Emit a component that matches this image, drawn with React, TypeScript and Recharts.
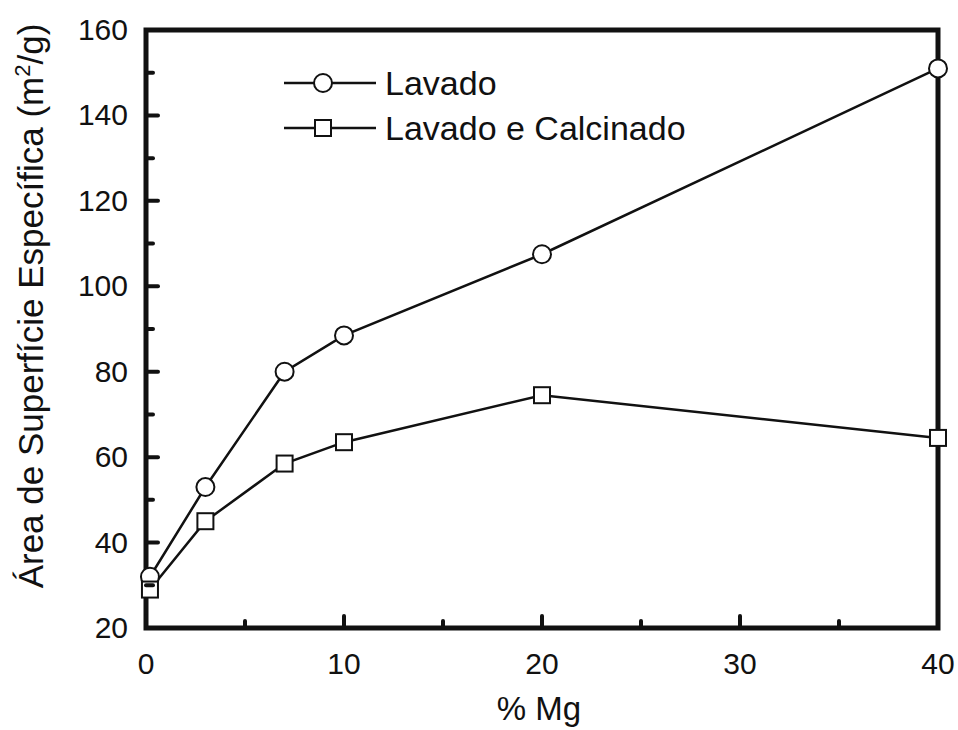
import React from 'react';
import { LineChart, Line, XAxis, YAxis, ReferenceArea, Legend, Label } from 'recharts';

// Specific surface area vs. Mg content
const mgPercent = [0.2, 3, 7, 10, 20, 40];
const lavado = [32, 53, 80, 88.5, 107.5, 151];
const calcinado = [29, 45, 58.5, 63.5, 74.5, 64.5];

const xTicks = [0, 5, 10, 15, 20, 25, 30, 35, 40];
const yTicks = [20, 30, 40, 50, 60, 70, 80, 90, 100, 110, 120, 130, 140, 150, 160];

const seriesNames = ['Lavado', 'Lavado e Calcinado'];

const data = mgPercent.map((mg, i) => ({ mg, lavado: lavado[i], calcinado: calcinado[i] }));

const FONT = '"Liberation Sans", Arial, Helvetica, sans-serif';
const INK = '#111';

const XTick = ({ x, y, payload }: any) => {
  const major = payload.value % 10 === 0;
  return (
    <g>
      <line x1={x} y1={y} x2={x} y2={y - (major ? 12 : 7)} stroke={INK} strokeWidth={4} strokeLinecap="round" />
      {major && (
        <text x={x} y={y + 46} textAnchor="middle" fontSize={30} fontFamily={FONT} fill={INK}>
          {payload.value}
        </text>
      )}
    </g>
  );
};

const YTick = ({ x, y, payload }: any) => {
  const major = payload.value % 20 === 0;
  return (
    <g>
      <line x1={x} y1={y} x2={x + (major ? 12 : 7)} y2={y} stroke={INK} strokeWidth={4} strokeLinecap="round" />
      {major && (
        <text x={x - 18} y={y + 10} textAnchor="end" fontSize={30} fontFamily={FONT} fill={INK}>
          {payload.value}
        </text>
      )}
    </g>
  );
};

const CircleDot = ({ cx, cy }: any) => (
  <circle cx={cx} cy={cy} r={9} fill="#fff" stroke={INK} strokeWidth={2} />
);

const SquareDot = ({ cx, cy }: any) => (
  <rect x={cx - 8} y={cy - 8} width={16} height={16} fill="#fff" stroke={INK} strokeWidth={2} />
);

const LegendBox = () => (
  <div style={{ fontFamily: FONT, fontSize: 34, color: INK, lineHeight: 1 }}>
    {seriesNames.map((name, i) => (
      <div key={name} style={{ display: 'flex', alignItems: 'center', height: 45 }}>
        <svg width={96} height={24} style={{ marginRight: 7 }}>
          <line x1={2} y1={12} x2={94} y2={12} stroke={INK} strokeWidth={2.5} />
          {i === 0 ? (
            <circle cx={41} cy={12} r={9} fill="#fff" stroke={INK} strokeWidth={2} />
          ) : (
            <rect x={33} y={4} width={16} height={16} fill="#fff" stroke={INK} strokeWidth={2} />
          )}
        </svg>
        <span>{name}</span>
      </div>
    ))}
  </div>
);

const YTitle = () => (
  <text
    x={43}
    y={306}
    transform="rotate(-90 43 306)"
    textAnchor="middle"
    fontSize={35}
    fontFamily={FONT}
    fill={INK}
  >
    Área de Superfície Específica (m
    <tspan dy={-13} fontSize={22}>2</tspan>
    <tspan dy={13}>/g)</tspan>
  </text>
);

export default function App() {
  return (
    <div style={{ position: 'absolute', left: 0, top: 0, width: 958, height: 730, background: '#fff' }}>
      <LineChart width={958} height={730} data={data} margin={{ top: 30, right: 20, left: 0, bottom: 0 }}>
        <XAxis
          dataKey="mg"
          type="number"
          domain={[0, 40]}
          ticks={xTicks}
          axisLine={false}
          tickLine={false}
          tickSize={0}
          tickMargin={0}
          height={102}
          tick={<XTick />}
          interval={0}
        >
          <Label
            content={() => (
              <text x={539} y={720} textAnchor="middle" fontSize={33} fontFamily={FONT} fill={INK}>
                % Mg
              </text>
            )}
          />
        </XAxis>
        <YAxis
          type="number"
          domain={[20, 160]}
          ticks={yTicks}
          axisLine={false}
          tickLine={false}
          tickSize={0}
          tickMargin={0}
          width={146}
          tick={<YTick />}
          interval={0}
        >
          <Label content={() => <YTitle />} />
        </YAxis>
        {/* centered + vertical so the legend reserves no room in the plot layout */}
        <Legend
          layout="vertical"
          verticalAlign="middle"
          align="center"
          wrapperStyle={{ top: 60, left: 282, width: 460 }}
          content={() => <LegendBox />}
        />
        <Line
          dataKey="lavado"
          stroke={INK}
          strokeWidth={2.5}
          dot={<CircleDot />}
          activeDot={false}
          isAnimationActive={false}
        />
        <Line
          dataKey="calcinado"
          stroke={INK}
          strokeWidth={2.5}
          dot={<SquareDot />}
          activeDot={false}
          isAnimationActive={false}
        />
        <ReferenceArea x1={0} x2={40} y1={20} y2={160} fill="none" stroke={INK} strokeWidth={5} ifOverflow="visible" />
      </LineChart>
    </div>
  );
}
